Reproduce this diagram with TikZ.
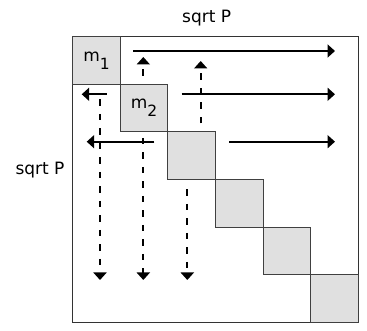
\documentclass[tikz,border=0pt]{standalone}
\usepackage{fontspec}
\newfontfamily\labelfont{DejaVu Sans}
\usetikzlibrary{arrows.meta}
\begin{document}
\begin{tikzpicture}[x=1pt, y=-1pt,
        grid/.style={rectangle, draw=black!80, line width=0.9pt, minimum width=285.6pt, minimum height=285.6pt, inner sep=0pt},
        blockcell/.style={rectangle, draw=black!75, fill=black!12, line width=0.9pt, minimum size=47.6pt, inner sep=0pt, font=\labelfont\fontsize{17}{20}\selectfont},
        axislabel/.style={font=\labelfont\fontsize{17}{20}\selectfont},
        send/.style={line width=2pt, -{Triangle[width=13pt, length=7.5pt]}},
        bcast/.style={send, dash pattern=on 6.5pt off 8pt}
    ]
        \useasboundingbox (0,0) rectangle (367,331);

        % Matrix outline
        \node[grid] (mat) at (215.5,179.5) {};

        % Diagonal blocks
        \node[blockcell] (b1) at (96.5,60.5) {m\raisebox{-8pt}{\fontsize{15.5}{18}\selectfont 1}};
        \node[blockcell] (b2) at (144.1,108.1) {m\raisebox{-8pt}{\fontsize{15.5}{18}\selectfont 2}};
        \node[blockcell] (b3) at (191.7,155.7) {};
        \node[blockcell] (b4) at (239.3,203.3) {};
        \node[blockcell] (b5) at (286.9,250.9) {};
        \node[blockcell] (b6) at (334.5,298.5) {};

        % Labels
        \node[axislabel] (top) at (206.7,18) {sqrt P};
        \node[axislabel] (side) at (40,170) {sqrt P};

        % Row messages
        \coordinate (r1a) at (133.3,51);   \coordinate (r1b) at (335,51);
        \coordinate (r2a) at (106.7,94.3); \coordinate (r2b) at (81.7,94.3);
        \coordinate (r2c) at (181.7,94.3); \coordinate (r2d) at (335,94.3);
        \coordinate (r3a) at (154.3,141.7); \coordinate (r3b) at (86.7,141.7);
        \coordinate (r3c) at (229.3,141.7); \coordinate (r3d) at (335,141.7);
        \draw[send] (r1a) -- (r1b);
        \draw[send] (r2a) -- (r2b);
        \draw[send] (r2c) -- (r2d);
        \draw[send] (r3a) -- (r3b);
        \draw[send] (r3c) -- (r3d);

        % Column messages
        \coordinate (c1a) at (143.3,76);   \coordinate (c1b) at (143.3,57);
        \coordinate (c2a) at (200.7,123.3); \coordinate (c2b) at (200.7,61);
        \coordinate (c3a) at (100,99.3);   \coordinate (c3b) at (100,280);
        \coordinate (c4a) at (143.3,138);  \coordinate (c4b) at (143.3,280);
        \coordinate (c5a) at (187.3,189.3); \coordinate (c5b) at (187.3,280);
        \draw[bcast] (c1a) -- (c1b);
        \draw[bcast] (c2a) -- (c2b);
        \draw[bcast] (c3a) -- (c3b);
        \draw[bcast] (c4a) -- (c4b);
        \draw[bcast] (c5a) -- (c5b);
    \end{tikzpicture}
\end{document}
